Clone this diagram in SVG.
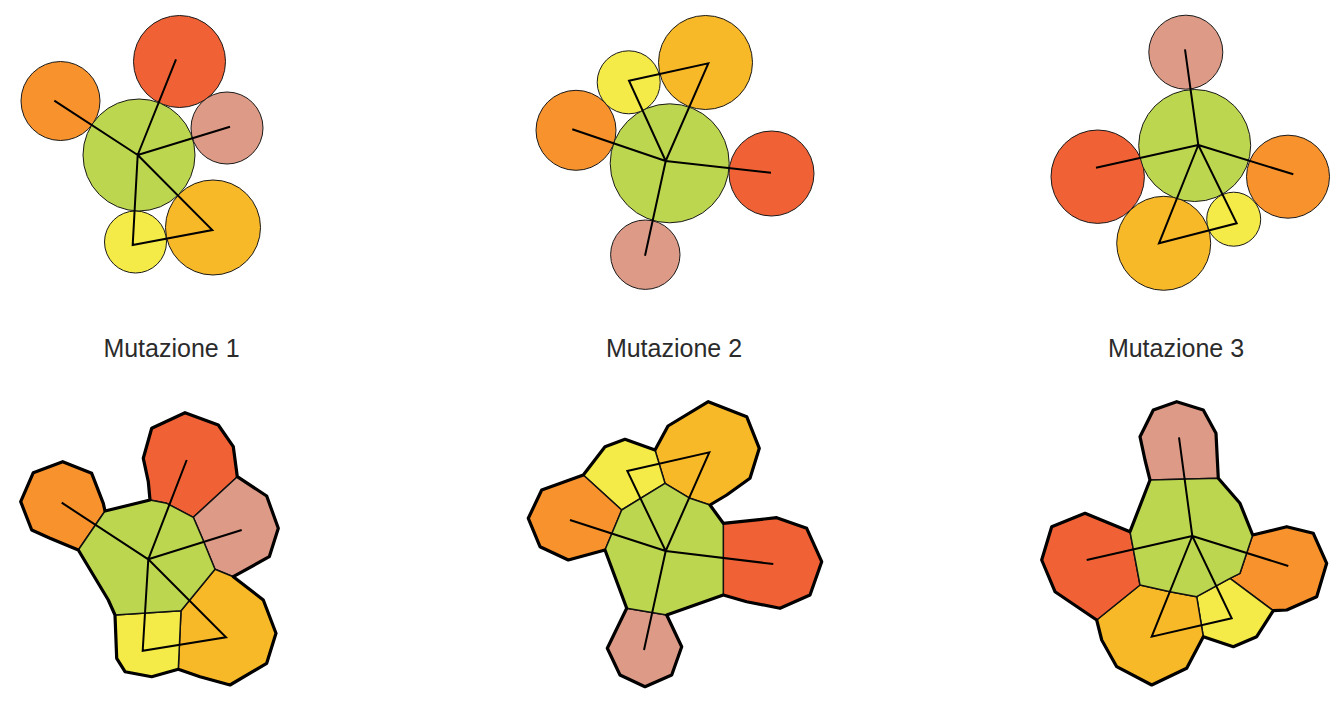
<svg xmlns="http://www.w3.org/2000/svg" width="1337" height="714" viewBox="0 0 1337 714">
<style>
.c{stroke:#1a1a1a;stroke-width:1}
.g{fill:#bdd64f}.r{fill:#f06236}.o{fill:#f7922c}.p{fill:#dd9a86}.y{fill:#f8b929}.l{fill:#f4ea48}
.cell{stroke:#111;stroke-width:1.5;stroke-linejoin:round}
.outer{fill:none;stroke:#000;stroke-width:3.2;stroke-linejoin:round}
.ln{fill:none;stroke:#000;stroke-width:2;stroke-linejoin:miter}
.lab{font-family:"Liberation Sans",Arial,sans-serif;font-size:25px;fill:#2b2b2b;text-anchor:middle}
</style>
<rect width="1337" height="714" fill="#fff"/>

<g id="circles-1">
<circle class="c o" cx="60.5" cy="101" r="39.5"/>
<circle class="c r" cx="179.5" cy="61.5" r="46"/>
<circle class="c p" cx="227" cy="128" r="36"/>
<circle class="c y" cx="213" cy="227.5" r="47.5"/>
<circle class="c l" cx="135.5" cy="242" r="31"/>
<circle class="c g" cx="139" cy="155" r="56"/>
</g>
<g id="circles-2">
<circle class="c y" cx="705.5" cy="62.5" r="47"/>
<circle class="c l" cx="628.7" cy="82.3" r="31.5"/>
<circle class="c o" cx="576" cy="130.3" r="40"/>
<circle class="c r" cx="771.5" cy="173.5" r="42.5"/>
<circle class="c p" cx="645.3" cy="254.7" r="34.7"/>
<circle class="c g" cx="669.7" cy="163.3" r="59.5"/>
</g>
<g id="circles-3">
<circle class="c p" cx="1185.8" cy="52.2" r="37"/>
<circle class="c r" cx="1097.7" cy="176.7" r="46.7"/>
<circle class="c o" cx="1288" cy="176.7" r="41.5"/>
<circle class="c y" cx="1163.7" cy="243.3" r="47"/>
<circle class="c l" cx="1233.7" cy="219.2" r="27"/>
<circle class="c g" cx="1194.7" cy="145.5" r="56"/>
</g>

<g id="cells-1">
<polygon class="cell o" points="20.7,501.7 33.3,472.7 62.7,461.7 91.7,473.3 103.3,503.3 105,511 78.3,550 50,538.3 31.7,530"/>
<polygon class="cell r" points="143.3,458.3 151.7,428.3 185,412.7 218.3,425 233.3,446.7 237.3,476.7 193.3,517.3 166.7,503.3 150,500 148.3,481.7"/>
<polygon class="cell p" points="237.3,476.7 266.7,496 278.3,528.3 269.3,556.7 233.3,576.7 215,569.3 201.7,536.7 193.3,517.3"/>
<polygon class="cell y" points="215,569.3 233.3,576.7 263.3,600 276,633.3 266.7,663.3 230,685 200,676.7 178.3,669.3 181,610.7"/>
<polygon class="cell l" points="115,615 181,610.7 178.3,669.3 151.7,676.7 125,671.7 116.7,658.3"/>
<polygon class="cell g" points="105,511 150,500 166.7,503.3 193.3,517.3 201.7,536.7 215,569.3 181,610.7 115,615 108.3,600 78.3,550"/>
<polygon class="outer" points="20.7,501.7 33.3,472.7 62.7,461.7 91.7,473.3 103.3,503.3 105,511 150,500 148.3,481.7 143.3,458.3 151.7,428.3 185,412.7 218.3,425 233.3,446.7 237.3,476.7 266.7,496 278.3,528.3 269.3,556.7 233.3,576.7 263.3,600 276,633.3 266.7,663.3 230,685 200,676.7 178.3,669.3 151.7,676.7 125,671.7 116.7,658.3 115,615 108.3,600 78.3,550 50,538.3 31.7,530"/>
</g>
<g id="cells-2">
<polygon class="cell y" points="655,450 668,426 708.3,401.7 746.7,416.7 759.3,448.3 750,478.3 726.7,495 710,505 690,498.3 665,483.3"/>
<polygon class="cell l" points="583.3,475 605,446.7 625,439.3 655,450 665,483.3 621.7,510"/>
<polygon class="cell o" points="583.3,475 541.7,490 528.3,518.3 540,546.7 568.3,560 605,550 621.7,510"/>
<polygon class="cell r" points="723.3,523.3 776.7,517.7 806.7,528.3 821.7,561.7 810,595 780,608.3 746.7,601.7 723.3,595"/>
<polygon class="cell p" points="626.7,608.3 607.3,648.3 620,675 645,686.7 671.7,675 681.7,646.7 666.7,615"/>
<polygon class="cell g" points="621.7,510 665,483.3 690,498.3 710,505 723.3,523.3 723.3,595 666.7,615 626.7,608.3 605,550"/>
<polygon class="outer" points="583.3,475 605,446.7 625,439.3 655,450 668,426 708.3,401.7 746.7,416.7 759.3,448.3 750,478.3 726.7,495 710,505 723.3,523.3 776.7,517.7 806.7,528.3 821.7,561.7 810,595 780,608.3 746.7,601.7 723.3,595 666.7,615 681.7,646.7 671.7,675 645,686.7 620,675 607.3,648.3 626.7,608.3 605,550 568.3,560 540,546.7 528.3,518.3 541.7,490"/>
</g>
<g id="cells-3">
<polygon class="cell p" points="1150,480 1145,460 1140,436.7 1153.3,410 1176.7,401.7 1203.3,410 1216,433.3 1218.3,478.3"/>
<polygon class="cell o" points="1252.7,535 1286.7,526.7 1313.3,533.3 1326.7,563.3 1316.7,596.7 1286.7,610 1273.3,610.7 1230,578.3 1240,573.3"/>
<polygon class="cell l" points="1230,578.3 1273.3,610.7 1256.7,636.7 1233.3,646.7 1203.3,636.7 1196.7,596.7"/>
<polygon class="cell y" points="1140,585 1096.7,620 1101.7,640 1116.7,666.7 1151.7,685 1186.7,668.3 1203.3,636.7 1196.7,596.7 1170,591.7"/>
<polygon class="cell r" points="1130,531.7 1085,513.3 1051.7,526.7 1041.7,560 1055,591.7 1096.7,620 1140,585"/>
<polygon class="cell g" points="1150,480 1218.3,478.3 1240,503.3 1252.7,535 1240,573.3 1230,578.3 1196.7,596.7 1170,591.7 1140,585 1130,531.7"/>
<polygon class="outer" points="1150,480 1145,460 1140,436.7 1153.3,410 1176.7,401.7 1203.3,410 1216,433.3 1218.3,478.3 1240,503.3 1252.7,535 1286.7,526.7 1313.3,533.3 1326.7,563.3 1316.7,596.7 1286.7,610 1273.3,610.7 1256.7,636.7 1233.3,646.7 1203.3,636.7 1186.7,668.3 1151.7,685 1116.7,666.7 1101.7,640 1096.7,620 1055,591.7 1041.7,560 1051.7,526.7 1085,513.3 1130,531.7"/>
</g>

<g id="connectors">
<path class="ln" d="M137.7,155 L54.3,100.7 M137.7,155 L176,59.3 M137.7,155 L230,126.7 M137.7,155 L212.3,230 L132.7,245 Z"/>
<path class="ln" d="M665.7,161 L572.3,129.3 M665.7,161 L771,172.7 M665.7,161 L645,255.7 M665.7,161 L629,80.7 L708.3,63.3 Z"/>
<path class="ln" d="M1198.3,145 L1185,49.3 M1198.3,145 L1096,167.7 M1198.3,145 L1293.3,174.3 M1198.3,145 L1159,243.3 L1236.7,223.3 Z"/>
<path class="ln" d="M148.3,559.3 L61.7,502.7 M148.3,559.3 L186.7,460 M148.3,559.3 L241.7,530 M148.3,559.3 L226,637.3 L142.7,650.7 Z"/>
<path class="ln" d="M665.7,551 L570,520 M665.7,551 L773.3,564 M665.7,551 L644,650 M665.7,551 L627.3,471 L709.3,452.3 Z"/>
<path class="ln" d="M1192.3,536 L1179,437.3 M1192.3,536 L1086.7,560 M1192.3,536 L1288.3,566 M1192.3,536 L1151.7,636.7 L1231.7,618.3 Z"/>
</g>

<g id="labels">
<text class="lab" x="171.5" y="357">Mutazione 1</text>
<text class="lab" x="674" y="357">Mutazione 2</text>
<text class="lab" x="1176" y="357">Mutazione 3</text>
</g>
</svg>
